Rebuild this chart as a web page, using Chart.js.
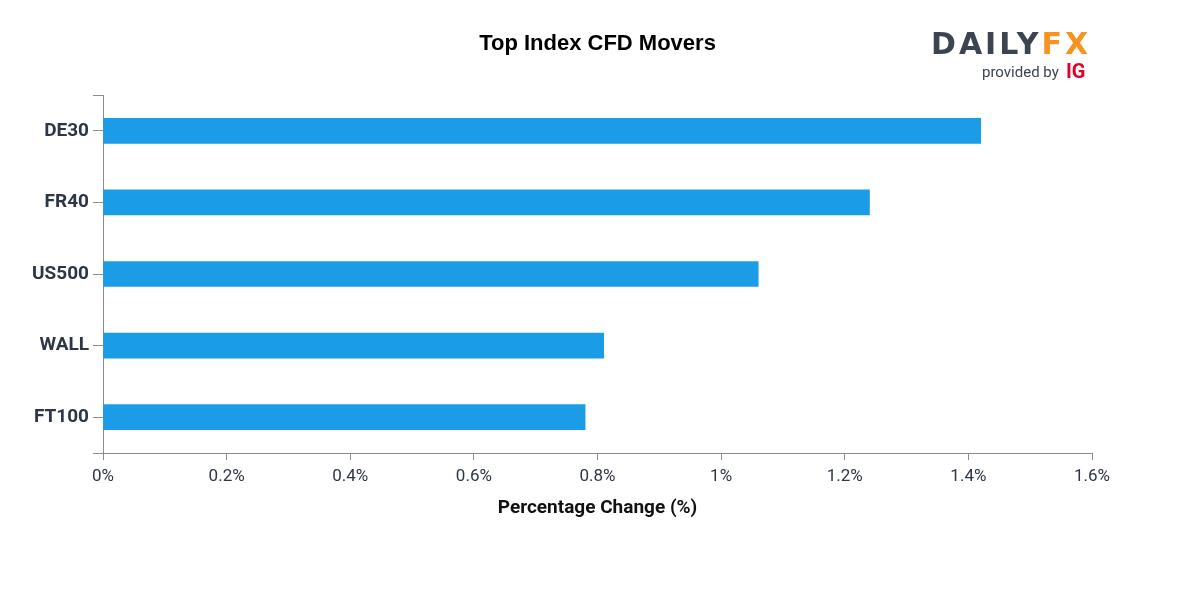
<!DOCTYPE html>
<html lang="en">
<head>
    <meta charset="UTF-8">
    <title>Top Index CFD Movers</title>
    <style>
        body { margin: 0; background: #fff; }
        .chart-container { width: 1200px; height: 600px; }
    </style>
</head>
<body>
    <div class="chart-container">
        <canvas id="barChart" width="1200" height="600"></canvas>
    </div>

    <script src="https://cdn.jsdelivr.net/npm/chart.js"></script>
    <script>
        // data
        var categories = ['DE30', 'FR40', 'US500', 'WALL', 'FT100'];
        var changes = [1.42, 1.24, 1.06, 0.81, 0.78];
        var xTicks = [0, 0.2, 0.4, 0.6, 0.8, 1, 1.2, 1.4, 1.6];

        var textColor = '#2d3645';
        var axisColor = '#8c8c8c';

        // title, axis title, logo and d3-style outer ticks
        var extras = {
            id: 'extras',
            afterDraw: function (chart) {
                var ctx = chart.ctx;
                var area = chart.chartArea;
                var cx = (area.left + area.right) / 2;
                ctx.save();

                // outer ticks on the y axis ends
                ctx.strokeStyle = axisColor;
                ctx.lineWidth = 1;
                ctx.beginPath();
                ctx.moveTo(area.left - 10, area.top + 0.5);
                ctx.lineTo(area.left, area.top + 0.5);
                ctx.moveTo(area.left - 10, area.bottom + 0.5);
                ctx.lineTo(area.left, area.bottom + 0.5);
                ctx.stroke();

                ctx.fillStyle = '#000';
                ctx.textAlign = 'center';
                ctx.textBaseline = 'middle';
                ctx.font = 'bold 22px "Liberation Sans", Arial, sans-serif';
                ctx.fillText('Top Index CFD Movers', cx, 44);

                ctx.fillStyle = '#111';
                ctx.font = 'bold 19px Roboto, sans-serif';
                ctx.fillText('Percentage Change (%)', cx, 508);

                // logo
                ctx.textAlign = 'left';
                ctx.font = 'bold 30px "DejaVu Sans", sans-serif';
                ctx.letterSpacing = '3px';
                ctx.fillStyle = '#3c4452';
                ctx.fillText('DAILY', 931, 46);
                var w = ctx.measureText('DAILY').width;
                ctx.fillStyle = '#f7931e';
                ctx.fillText('FX', 931 + w, 46);
                ctx.letterSpacing = '0px';

                ctx.fillStyle = '#3c4452';
                ctx.font = '15px Roboto, sans-serif';
                ctx.fillText('provided by', 982, 73);
                ctx.fillStyle = '#e4002b';
                ctx.font = 'bold 20px Roboto, sans-serif';
                ctx.fillText('IG', 1066, 73);

                ctx.restore();
            }
        };

        var barChartData = {
            labels: categories,
            datasets: [{
                label: 'Percentage Change',
                backgroundColor: '#1a9de6',
                data: changes,
                barThickness: 25,
            }]
        };

        var barChartConfig = {
            type: 'bar',
            data: barChartData,
            plugins: [extras],
            options: {
                indexAxis: 'y',
                responsive: false,
                animation: false,
                layout: {
                    padding: { top: 95, right: 108, left: 0, bottom: 0 }
                },
                plugins: {
                    legend: { display: false },
                    tooltip: { enabled: false },
                },
                scales: {
                    x: {
                        type: 'linear',
                        min: 0,
                        max: 1.6,
                        afterBuildTicks: function (scale) {
                            scale.ticks = xTicks.map(function (v) { return { value: v }; });
                        },
                        afterFit: function (scale) { scale.height = 147; },
                        border: { color: axisColor },
                        grid: {
                            drawOnChartArea: false,
                            color: axisColor,
                            tickLength: 7,
                        },
                        ticks: {
                            color: textColor,
                            padding: 7,
                            font: { family: 'Roboto', size: 17 },
                            callback: function (v) { return v + '%'; },
                        },
                    },
                    y: {
                        afterFit: function (scale) { scale.width = 103; },
                        border: { color: axisColor },
                        grid: {
                            offset: false,
                            drawOnChartArea: false,
                            color: axisColor,
                            tickLength: 10,
                        },
                        ticks: {
                            color: textColor,
                            padding: 4,
                            font: { family: 'Roboto', size: 19, weight: 'bold' },
                        },
                    },
                },
            },
        };

        var barChart = new Chart(document.getElementById('barChart').getContext('2d'), barChartConfig);
    </script>
</body>
</html>
